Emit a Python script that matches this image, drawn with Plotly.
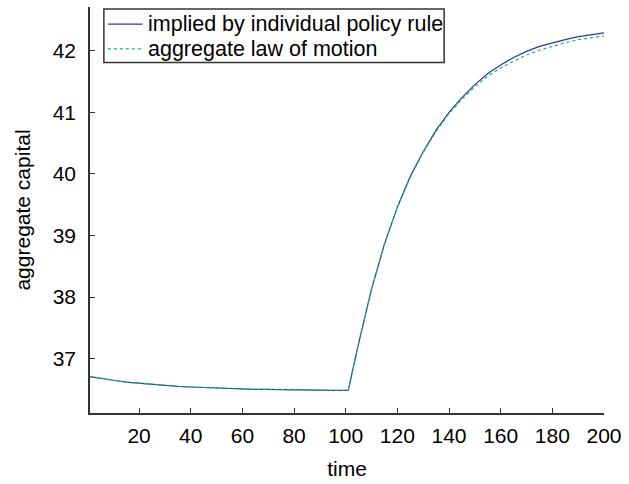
import plotly.graph_objects as go

# time grid
time = [1, 5, 10, 15, 20, 25, 30, 35, 40, 45, 50, 55, 60, 65, 70, 75, 80, 85, 90, 95, 100,
        101, 105, 110, 115, 120, 125, 130, 135, 140, 145, 150, 155, 160, 165, 170, 175,
        180, 185, 190, 195, 200]

# aggregate capital implied by individual policy rule
k_policy = [36.71, 36.68, 36.65, 36.62, 36.60, 36.58, 36.56, 36.55, 36.54, 36.53, 36.52,
            36.51, 36.51, 36.50, 36.50, 36.495, 36.49, 36.49, 36.49, 36.485, 36.485,
            36.49, 37.25, 38.13, 38.86, 39.46, 39.96, 40.36, 40.71, 41.00, 41.24, 41.45,
            41.63, 41.77, 41.89, 41.99, 42.07, 42.13, 42.18, 42.23, 42.26, 42.29]

# aggregate law of motion
k_alm = [36.71, 36.68, 36.65, 36.62, 36.60, 36.58, 36.56, 36.55, 36.54, 36.53, 36.52,
         36.51, 36.51, 36.50, 36.50, 36.495, 36.49, 36.49, 36.49, 36.485, 36.485,
         36.49, 37.25, 38.13, 38.86, 39.46, 39.95, 40.35, 40.69, 40.98, 41.21, 41.415,
         41.59, 41.72, 41.83, 41.93, 42.01, 42.075, 42.13, 42.18, 42.215, 42.24]

series_names = ["implied by individual policy rule", "aggregate law of motion"]
series_colors = ["#34349e", "#00c060"]
series_dash = ["solid", "dot"]

x_ticks = [20, 40, 60, 80, 100, 120, 140, 160, 180, 200]
y_ticks = [37, 38, 39, 40, 41, 42]

fig = go.Figure()
for ys, nm, col, dsh in zip([k_policy, k_alm], series_names, series_colors, series_dash):
    fig.add_trace(go.Scatter(x=time, y=ys, mode="lines", name=nm, showlegend=False,
                             line=dict(color=col, width=1.2, dash=dsh)))

axis_common = dict(showgrid=False, zeroline=False, showline=True, linecolor="#333333",
                   linewidth=1.5, ticks="inside", ticklen=5, tickcolor="#333333",
                   tickwidth=1.2, tickfont=dict(size=21, color="black"), mirror=False)

# hand-built legend box (matches reference layout)
fig.add_shape(type="rect", xref="paper", yref="paper", x0=0.027, x1=0.689, y0=0.863, y1=0.995,
              line=dict(color="#333333", width=1.5), fillcolor="white", layer="above")
legend_rows_y = [0.958, 0.897]
for yy, nm, col, dsh in zip(legend_rows_y, series_names, series_colors, series_dash):
    fig.add_shape(type="line", xref="paper", yref="paper", x0=0.0347, x1=0.1023, y0=yy, y1=yy,
                  line=dict(color=col, width=1.2, dash=dsh), layer="above")
    fig.add_annotation(xref="paper", yref="paper", x=0.108, y=yy, text=nm, showarrow=False,
                       xanchor="left", yanchor="middle", font=dict(size=21.5, color="black"))

fig.update_layout(
    width=629, height=484,
    margin=dict(l=90, r=21, t=7, b=68),
    paper_bgcolor="white", plot_bgcolor="white",
    font=dict(family="Liberation Sans, Arial, sans-serif", color="black", size=21),
    xaxis=dict(range=[1, 200], tickvals=x_ticks, ticklabelstandoff=3,
               title=dict(text="time", font=dict(size=21), standoff=15), **axis_common),
    yaxis=dict(range=[36.118, 42.71], tickvals=y_ticks, ticklabelstandoff=8,
               title=dict(text="aggregate capital", font=dict(size=21), standoff=16),
               **axis_common),
    showlegend=False,
)

fig.write_html("out.html", config={"displayModeBar": False},
               post_script="document.body.style.margin='0';")
